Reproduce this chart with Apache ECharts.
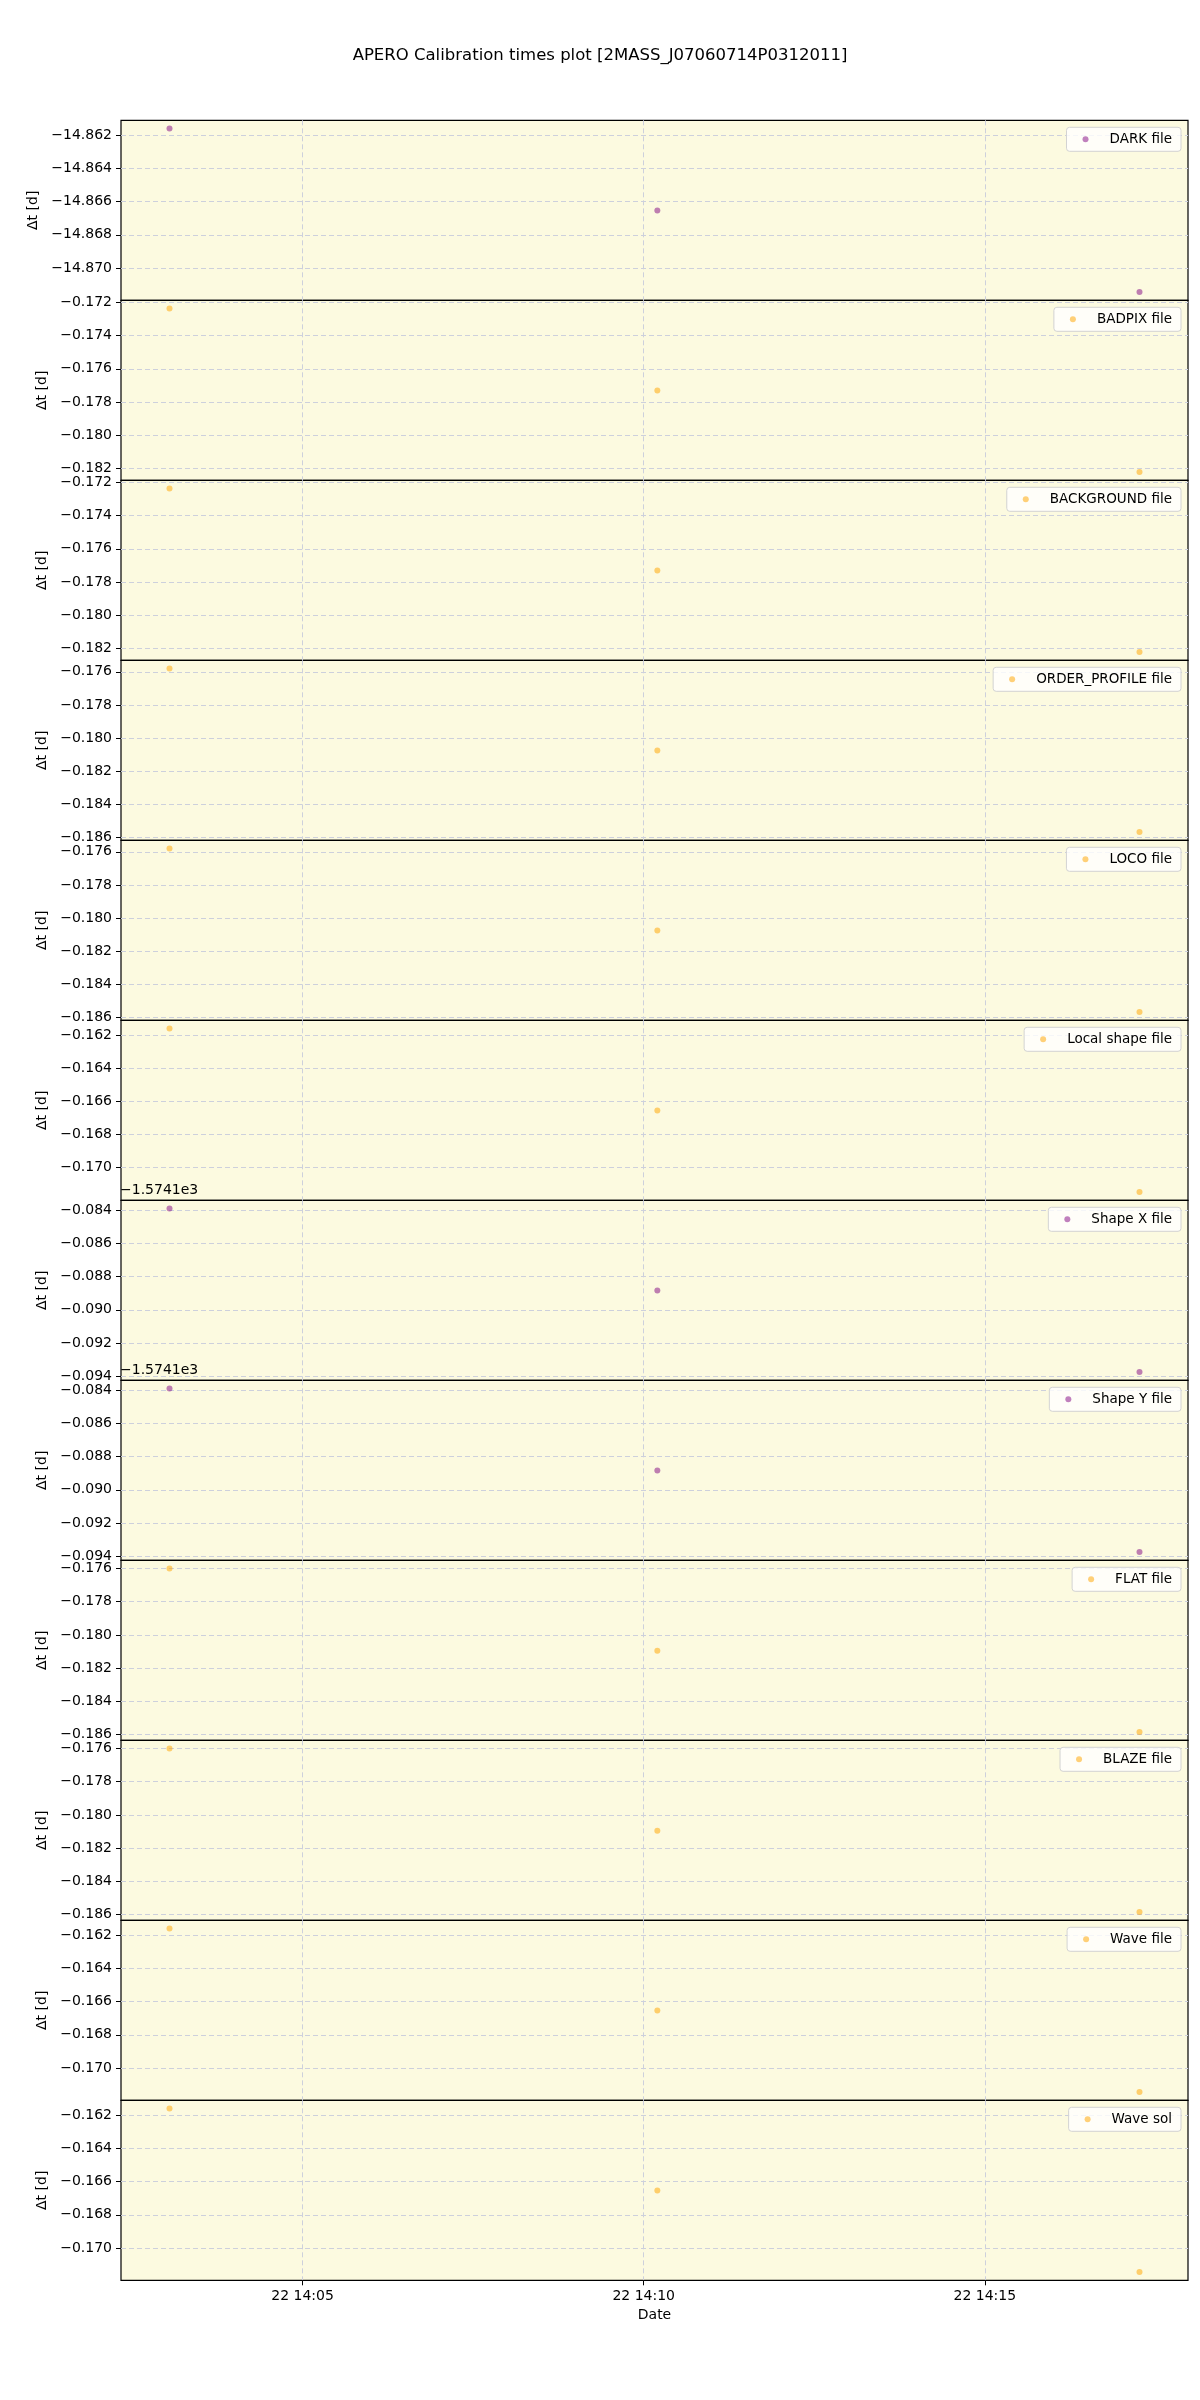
<!DOCTYPE html>
<html>
<head>
<meta charset="utf-8">
<script src="https://cdn.jsdelivr.net/npm/echarts@6/dist/echarts.min.js"></script>
<style>html,body{margin:0;padding:0;background:#fff}#c{width:1200px;height:2400px}</style>
</head>
<body>
<div id="c"></div>
<script>
// ---- data ----
const times = ['2020-12-22 14:03:03', '2020-12-22 14:10:12', '2020-12-22 14:17:16'];
const xTicks = ['2020-12-22 14:05:00', '2020-12-22 14:10:00', '2020-12-22 14:15:00'];

const panelNames = ['DARK file', 'BADPIX file', 'BACKGROUND file', 'ORDER_PROFILE file', 'LOCO file',
  'Local shape file', 'Shape X file', 'Shape Y file', 'FLAT file', 'BLAZE file', 'Wave file', 'Wave sol'];

const darkVals = [-14.86158, -14.86653, -14.87146];
const badpixVals = [-0.17236, -0.17731, -0.18224];
const backgroundVals = [-0.17236, -0.17731, -0.18224];
const orderProfileVals = [-0.17580, -0.18075, -0.18568];
const locoVals = [-0.17580, -0.18075, -0.18568];
const localShapeVals = [-0.16160, -0.16655, -0.17148];
const shapeXVals = [-1574.18388, -1574.18883, -1574.19376];
const shapeYVals = [-1574.18388, -1574.18883, -1574.19376];
const flatVals = [-0.17600, -0.18095, -0.18586];
const blazeVals = [-0.17600, -0.18095, -0.18586];
const waveFileVals = [-0.16158, -0.16653, -0.17146];
const waveSolVals = [-0.16158, -0.16653, -0.17146];

const darkTicks = [-14.862, -14.864, -14.866, -14.868, -14.870];
const t172 = [-0.172, -0.174, -0.176, -0.178, -0.180, -0.182];
const t176 = [-0.176, -0.178, -0.180, -0.182, -0.184, -0.186];
const t162 = [-0.162, -0.164, -0.166, -0.168, -0.170];
const tShape = [-1574.184, -1574.186, -1574.188, -1574.190, -1574.192, -1574.194];
const shapeOffset = -1574.1;
const shapeOffsetLabel = '\u22121.5741e3';

const panelVals = [darkVals, badpixVals, backgroundVals, orderProfileVals, locoVals, localShapeVals,
  shapeXVals, shapeYVals, flatVals, blazeVals, waveFileVals, waveSolVals];
const panelTicks = [darkTicks, t172, t172, t176, t176, t162, tShape, tShape, t176, t176, t162, t162];
const panelKind = ['p', 'o', 'o', 'o', 'o', 'o', 'p', 'p', 'o', 'o', 'o', 'o'];

// ---- layout / style ----
const PURPLE = 'rgba(128,0,128,0.62)';
const ORANGE = 'rgba(255,165,0,0.65)';
const FONT = 'DejaVu Sans';
const TOP0 = 120.3, PH = 180, LEFT = 121, RIGHT = 12;
const minus = s => s.replace(/-/g, '\u2212');
const pad2 = n => (n < 10 ? '0' : '') + n;
const toMs = s => { const m = s.match(/(\d+)-(\d+)-(\d+) (\d+):(\d+):(\d+)/); return new Date(+m[1], +m[2] - 1, +m[3], +m[4], +m[5], +m[6]).getTime(); };

const tms = times.map(toMs);
const xTickMs = xTicks.map(toMs);
const xSpan = tms[tms.length - 1] - tms[0];
const xMin = tms[0] - 0.05 * xSpan, xMax = tms[tms.length - 1] + 0.05 * xSpan;

const grids = [], xAxes = [], yAxes = [], series = [], legends = [];
const titles = [{
  text: 'APERO Calibration times plot [2MASS_J07060714P0312011]',
  left: 'center', top: 47, padding: 0,
  textStyle: { fontFamily: FONT, fontSize: 16.5, fontWeight: 'normal', color: '#000' }
}];

const N = panelNames.length;
for (let i = 0; i < N; i++) {
  const top = TOP0 + PH * i;
  const vals = panelVals[i];
  const isShape = (panelNames[i].indexOf('Shape ') === 0);
  const hi = Math.max(...vals), lo = Math.min(...vals), sp = hi - lo;
  const last = i === N - 1;
  grids.push({
    left: LEFT, right: RIGHT, top: top, height: PH, show: true,
    backgroundColor: '#fcfae0', borderColor: '#000', borderWidth: 1.2, containLabel: false
  });
  xAxes.push({
    type: 'value', gridIndex: i, min: xMin, max: xMax,
    name: last ? 'Date' : '', nameLocation: 'middle', nameGap: 28,
    nameTextStyle: { fontFamily: FONT, fontSize: 14, color: '#000' },
    axisLine: { show: false },
    axisTick: { show: last, length: 5, lineStyle: { color: '#000' }, customValues: xTickMs },
    axisLabel: {
      show: last, customValues: xTickMs, margin: 9, fontFamily: FONT, fontSize: 14, color: '#000',
      formatter: v => { const d = new Date(v); return d.getDate() + ' ' + pad2(d.getHours()) + ':' + pad2(d.getMinutes()); }
    },
    splitLine: { show: true, lineStyle: { color: '#cdd0dc', type: [5, 3], width: 1 } }
  });
  yAxes.push({
    type: 'value', gridIndex: i, min: lo - 0.05 * sp, max: hi + 0.05 * sp, scale: true,
    name: '\u0394t [d]', nameLocation: 'middle', nameRotate: 90, nameGap: i === 0 ? 79 : 71,
    nameTextStyle: { fontFamily: FONT, fontSize: 14, color: '#000' },
    axisLine: { show: false },
    axisTick: { show: true, length: 5, lineStyle: { color: '#000' }, customValues: panelTicks[i] },
    axisLabel: {
      customValues: panelTicks[i], margin: 9, fontFamily: FONT, fontSize: 14, color: '#000',
      formatter: v => minus((isShape ? (v - shapeOffset) : v).toFixed(3))
    },
    splitLine: { show: true, lineStyle: { color: '#cdd0dc', type: [5, 3], width: 1 } }
  });
  series.push({
    type: 'scatter', name: panelNames[i], xAxisIndex: i, yAxisIndex: i,
    symbol: 'circle', symbolSize: 6,
    itemStyle: { color: panelKind[i] === 'p' ? PURPLE : ORANGE },
    data: tms.map((t, k) => [t, vals[k]])
  });
  legends.push({
    data: [panelNames[i]], top: top + 7, right: 19, orient: 'horizontal',
    icon: 'circle', itemWidth: 6, itemHeight: 6,
    padding: [5, 9, 5, 16], backgroundColor: 'rgba(255,255,255,0.8)',
    borderColor: '#d3d3d3', borderWidth: 1, borderRadius: 3,
    selectedMode: false,
    textStyle: { fontFamily: FONT, fontSize: 13.5, color: '#000', padding: [0, 0, 0, 16] }
  });
  if (isShape) {
    titles.push({
      text: shapeOffsetLabel, left: LEFT - 1, top: top - 17, padding: 0,
      textStyle: { fontFamily: FONT, fontSize: 14, fontWeight: 'normal', color: '#000' }
    });
  }
}

const chart = echarts.init(document.getElementById('c'), null, { renderer: 'canvas' });
chart.setOption({
  animation: false,
  title: titles,
  grid: grids, xAxis: xAxes, yAxis: yAxes, series: series, legend: legends
});
</script>
</body>
</html>
